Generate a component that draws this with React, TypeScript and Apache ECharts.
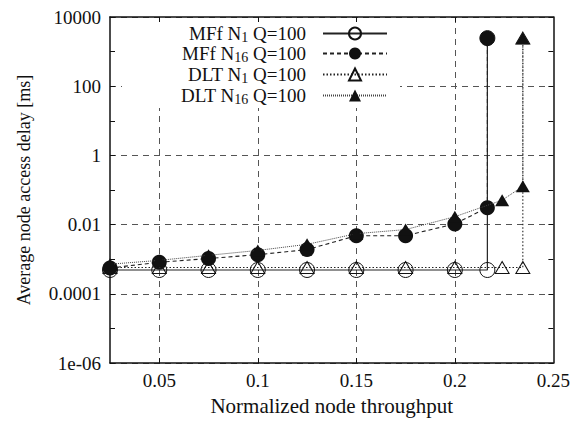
import React, { useEffect, useRef } from "react";
import * as echarts from "echarts";

const xBase = [0.025, 0.05, 0.075, 0.1, 0.125, 0.15, 0.175, 0.2];

const mffX = [...xBase, 0.2165, 0.2165];
const mffN1 = [0.00049, 0.00049, 0.00049, 0.00049, 0.00049, 0.00049, 0.00049, 0.00049, 0.00049, 2450];
const mffN16 = [0.00056, 0.00082, 0.00105, 0.00136, 0.0019, 0.0048, 0.0048, 0.0105, 0.031, 2450];

const dltX = [...xBase, 0.224, 0.2345, 0.2345];
const dltN1 = [0.00058, 0.00058, 0.00058, 0.00058, 0.00058, 0.00058, 0.00058, 0.00058, 0.00058, 0.00058, 2450];
const dltN16 = [0.00072, 0.00093, 0.0013, 0.0018, 0.0027, 0.0055, 0.0072, 0.017, 0.051, 0.128, 2450];

const xTicks = [0.05, 0.1, 0.15, 0.2, 0.25];
const xGridTicks = [0.05, 0.1, 0.15, 0.2];
const yTickValues = [-6, -4, -2, 0, 2, 4];
const yTickLabels = ["1e-06", "0.0001", "0.01", "1", "100", "10000"];

const seriesNames = ["MFf N1 Q=100", "MFf N16 Q=100", "DLT N1 Q=100", "DLT N16 Q=100"];
const legendRich: Record<string, string> = {
  "MFf N1 Q=100": "MFf N{sub|1} Q=100",
  "MFf N16 Q=100": "MFf N{sub|16} Q=100",
  "DLT N1 Q=100": "DLT N{sub|1} Q=100",
  "DLT N16 Q=100": "DLT N{sub|16} Q=100",
};

const FONT = "'Liberation Serif', 'Times New Roman', 'DejaVu Serif', serif";

function pairs(xs: number[], ys: number[]) {
  return xs.map((x, i) => [x, Math.log10(ys[i])]);
}

export default function App() {
  const ref = useRef<HTMLDivElement>(null);
  useEffect(() => {
    if (!ref.current) return;
    const chart = echarts.init(ref.current, null, { renderer: "svg" });
    const gridDash = { color: "#555", type: [6, 5] as any, width: 1 };
    const legendRowsY = [34, 54, 75, 96];
    const legends = seriesNames.map((n, i) => ({
      data: [n],
      orient: "horizontal",
      align: "right",
      right: 185,
      top: legendRowsY[i] - 13,
      padding: 0,
      itemWidth: 64,
      itemHeight: 15,
      selectedMode: false,
      formatter: (name: string) => legendRich[name],
      textStyle: {
        fontFamily: FONT,
        fontSize: 19,
        color: "#111",
        padding: [0, 12, 0, 0],
        lineHeight: 21,
        rich: {
          sub: { fontFamily: FONT, fontSize: 14, color: "#111", verticalAlign: "bottom", lineHeight: 21, padding: [9, 0, 0, 0] },
        },
      },
    }));
    const axisLineStyle = { show: true, onZero: false, lineStyle: { color: "#111", width: 1.5 } };
    const option: any = {
      animation: false,
      backgroundColor: "#fff",
      textStyle: { fontFamily: FONT },
      grid: { left: 110, right: 13, top: 17, bottom: 53, containLabel: false },
      legend: legends,
      graphic: [
        {
          type: "rect",
          shape: { x: 122, y: 22, width: 278, height: 86 },
          style: { fill: "#fff" },
          z: 3,
        },
      ],
      xAxis: [
        {
          type: "value",
          min: 0.025,
          max: 0.25,
          position: "bottom",
          name: "Normalized node throughput",
          nameLocation: "middle",
          nameGap: 30,
          nameTextStyle: { fontFamily: FONT, fontSize: 21, color: "#111" },
          axisLine: axisLineStyle,
          axisTick: { show: true, inside: true, length: 5, customValues: xGridTicks, lineStyle: { color: "#111" } },
          axisLabel: {
            customValues: xTicks,
            fontFamily: FONT,
            fontSize: 19,
            color: "#111",
            margin: 8,
            formatter: (v: number) => String(+v.toFixed(3)),
          },
          splitLine: { show: true, lineStyle: gridDash },
        },
        {
          type: "value",
          min: 0.025,
          max: 0.25,
          position: "top",
          axisLine: axisLineStyle,
          axisTick: { show: true, inside: true, length: 5, customValues: xGridTicks, lineStyle: { color: "#111" } },
          axisLabel: { show: false },
          splitLine: { show: false },
        },
      ],
      yAxis: [
        {
          type: "value",
          min: -6,
          max: 4,
          interval: 2,
          name: "Average node access delay [ms]",
          nameLocation: "middle",
          nameGap: 77,
          nameTextStyle: { fontFamily: FONT, fontSize: 18, color: "#111" },
          axisLine: axisLineStyle,
          axisTick: { show: true, inside: true, length: 5, lineStyle: { color: "#111" } },
          minorTick: { show: true, splitNumber: 2, length: 5, lineStyle: { color: "#111" } },
          axisLabel: {
            fontFamily: FONT,
            fontSize: 19,
            color: "#111",
            margin: 9,
            formatter: (v: number) => {
              const i = yTickValues.indexOf(Math.round(v));
              return i >= 0 ? yTickLabels[i] : "";
            },
          },
          splitLine: { show: true, lineStyle: gridDash },
        },
        {
          type: "value",
          min: -6,
          max: 4,
          interval: 2,
          position: "right",
          axisLine: axisLineStyle,
          axisTick: { show: true, inside: true, length: 5, lineStyle: { color: "#111" } },
          minorTick: { show: true, splitNumber: 2, length: 5, lineStyle: { color: "#111" } },
          axisLabel: { show: false },
          splitLine: { show: false },
        },
      ],
      series: [
        {
          name: seriesNames[0],
          type: "line",
          data: pairs(mffX, mffN1),
          symbol: "circle",
          symbolSize: 15,
          itemStyle: { color: "rgba(255,255,255,0)", borderColor: "#111", borderWidth: 1 },
          lineStyle: { color: "#222", width: 1.2, type: "solid" },
          z: 2,
        },
        {
          name: seriesNames[1],
          type: "line",
          data: pairs(mffX, mffN16),
          symbol: "circle",
          symbolSize: 15,
          itemStyle: { color: "#111", borderColor: "#111", borderWidth: 0 },
          lineStyle: { color: "#222", width: 1.1, type: [4, 3] },
          z: 3,
        },
        {
          name: seriesNames[2],
          type: "line",
          data: pairs(dltX, dltN1),
          symbol: "triangle",
          symbolSize: [14, 12],
          itemStyle: { color: "rgba(255,255,255,0)", borderColor: "#111", borderWidth: 1 },
          lineStyle: { color: "#222", width: 1.1, type: [1.5, 2] },
          z: 4,
        },
        {
          name: seriesNames[3],
          type: "line",
          data: pairs(dltX, dltN16),
          symbol: "triangle",
          symbolSize: [14, 12],
          itemStyle: { color: "#111", borderColor: "#111", borderWidth: 0 },
          lineStyle: { color: "#444", width: 1, type: [1, 1] },
          z: 5,
        },
      ],
    };
    chart.setOption(option);
    return () => chart.dispose();
  }, []);
  return <div ref={ref} style={{ width: 573, height: 421, position: "absolute", left: 0, top: 0 }} />;
}
